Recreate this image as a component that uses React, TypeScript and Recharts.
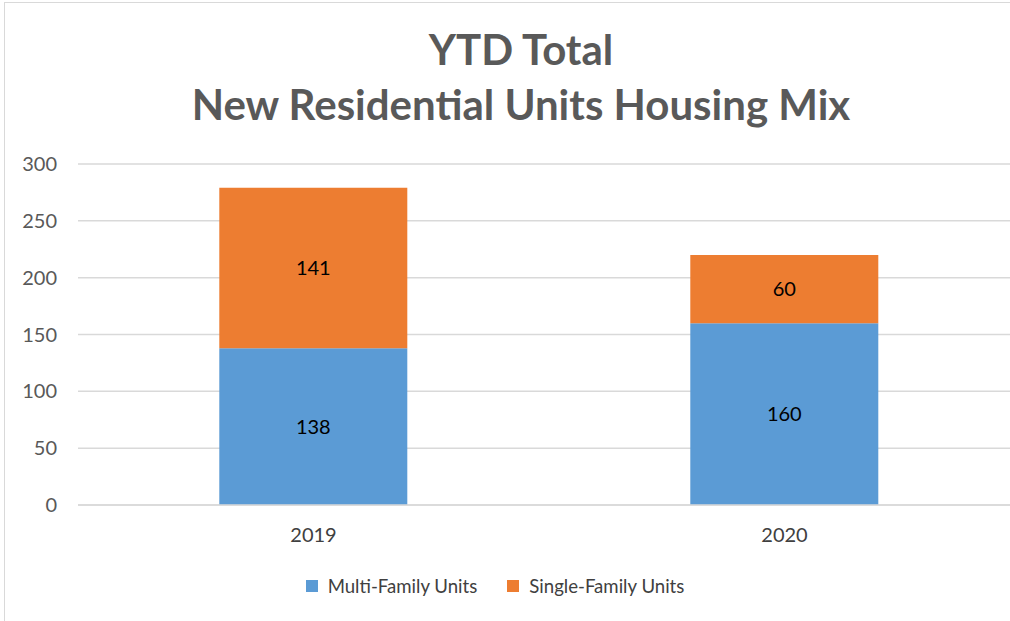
import React from "react";
import { BarChart, Bar, XAxis, YAxis, CartesianGrid, Legend, LabelList } from "recharts";

const years = ["2019", "2020"];
const multiFamily = [138, 160];
const singleFamily = [141, 60];
const yTicks = [0, 50, 100, 150, 200, 250, 300];

const data = years.map((year, i) => ({
  year,
  multi: multiFamily[i],
  single: singleFamily[i],
}));

const FONT = "Lato, 'Open Sans', sans-serif";

function LegendContent({ payload }: any) {
  return (
    <div style={{ display: "flex", justifyContent: "center", paddingTop: 10, paddingRight: 38, fontFamily: FONT, fontSize: 18.6, color: "#404040" }}>
      {(payload || []).map((p: any, i: number) => (
        <div key={i} style={{ display: "flex", alignItems: "center", marginRight: i === 0 ? 30 : 0 }}>
          <span style={{ width: 12, height: 12, background: p.color, display: "inline-block", marginRight: 10 }} />
          <span>{p.value}</span>
        </div>
      ))}
    </div>
  );
}

export default function App() {
  return (
    <div style={{ position: "absolute", left: 0, top: 0, width: 1010, height: 621, overflow: "hidden", background: "#fff" }}>
      <div style={{ position: "absolute", left: 4, top: 2, width: 1100, height: 700, border: "1px solid #d9d9d9" }} />
      <div style={{ position: "absolute", left: 0, top: 22, width: 1042, textAlign: "center", fontFamily: FONT, fontWeight: 700, fontSize: 42, color: "#595959", lineHeight: "55px" }}>
        YTD Total
        <br />
        New Residential Units Housing Mix
      </div>
      <div style={{ position: "absolute", left: 0, top: 0 }}>
        <BarChart width={1030} height={621} data={data} margin={{ top: 164, right: 10, left: 8, bottom: 20 }} barCategoryGap="30%">
          <CartesianGrid vertical={false} stroke="#d9d9d9" strokeWidth={1.5} />
          <XAxis
            dataKey="year"
            axisLine={{ stroke: "#d9d9d9", strokeWidth: 1.5 }}
            tickLine={false}
            tickSize={0}
            tickMargin={23}
            height={60}
            tick={{ fill: "#404040", fontSize: 20, fontFamily: FONT }}
          />
          <YAxis
            width={70}
            domain={[0, 300]}
            ticks={yTicks}
            axisLine={false}
            tickLine={false}
            tickSize={0}
            tickMargin={21}
            tick={{ fill: "#595959", fontSize: 20, fontFamily: FONT }}
          />
          <Legend verticalAlign="bottom" height={36} content={<LegendContent />} />
          <Bar dataKey="multi" name="Multi-Family Units" stackId="a" fill="#5B9BD5" isAnimationActive={false}>
            <LabelList dataKey="multi" position="center" fill="#000" fontSize={20} fontFamily={FONT} />
          </Bar>
          <Bar dataKey="single" name="Single-Family Units" stackId="a" fill="#ED7D31" isAnimationActive={false}>
            <LabelList dataKey="single" position="center" fill="#000" fontSize={20} fontFamily={FONT} />
          </Bar>
        </BarChart>
      </div>
    </div>
  );
}
